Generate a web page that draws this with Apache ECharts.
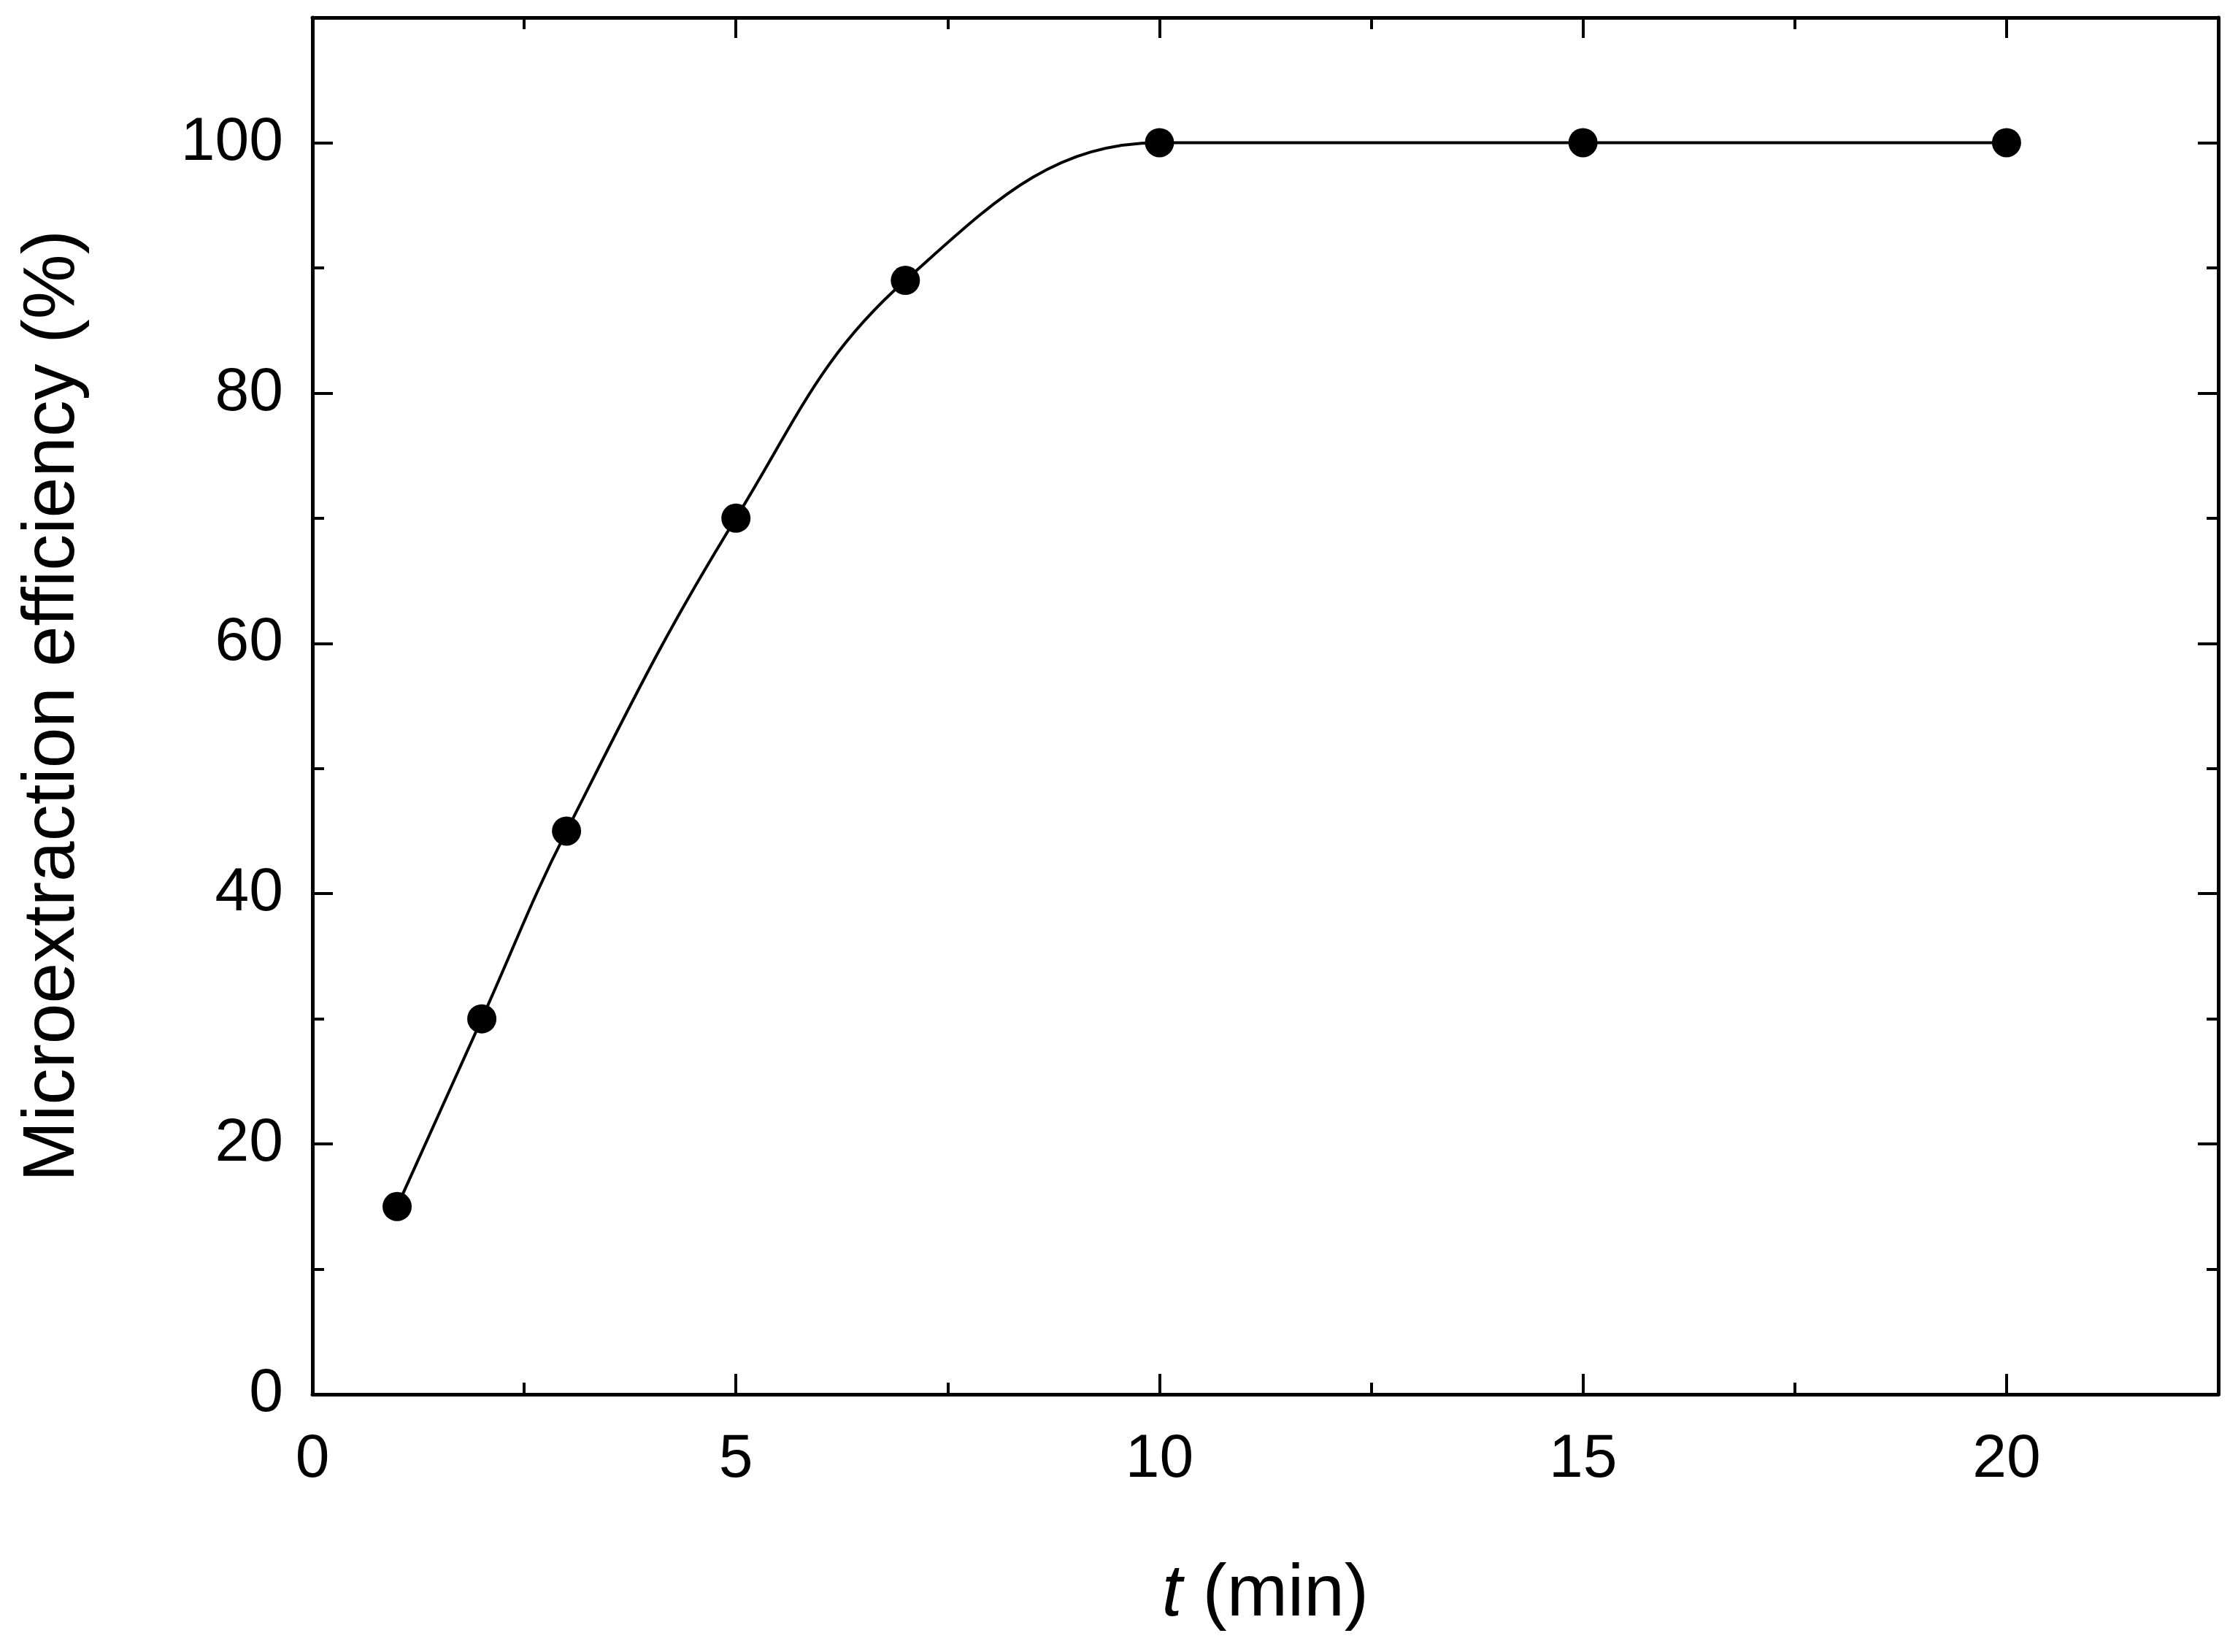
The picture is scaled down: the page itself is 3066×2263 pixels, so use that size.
<!DOCTYPE html>
<html>
<head>
<meta charset="utf-8">
<script src="https://cdn.jsdelivr.net/npm/echarts@6/dist/echarts.min.js"></script>
<style>html, body{ margin:0; height:100%; background:#fff; }</style>
</head>
<body>
<div id="main" style="width:3066px;height:2263px;"></div>
<script>
// time (min) and efficiency (%)
var timeMin = [1, 2, 3, 5, 7, 10, 15, 20];
var efficiency = [15, 30, 45, 70, 89, 100, 100, 100];

var myChart = echarts.init(document.getElementById('main'));
var font = 'Arial, "Liberation Sans", sans-serif';

function axisBase(extra) {
    var a = {
        axisLine: { show: true, onZero: false, lineStyle: { color: '#000', width: 5 } },
        axisTick: { show: true, inside: true, length: 28, lineStyle: { color: '#000', width: 4 } },
        minorTick: { show: true, splitNumber: 2, length: 16, lineStyle: { color: '#000', width: 4 } },
        splitLine: { show: false },
        axisLabel: { show: false }
    };
    for (var k in extra) a[k] = extra[k];
    return a;
}

var option = {
    backgroundColor: '#fff',
    animation: false,
    grid: { left: 428, right: 27, top: 24, bottom: 353 },
    xAxis: [
        axisBase({
            type: 'value', min: 0, max: 22.5, interval: 5, position: 'bottom',
            name: '{i|t} (min)', nameLocation: 'middle', nameGap: 225,
            nameTextStyle: { fontSize: 100, fontFamily: font, color: '#000',
                rich: { i: { fontStyle: 'italic', fontSize: 100, fontFamily: font } } },
            axisLabel: { show: true, fontSize: 84, fontFamily: font, color: '#000', margin: 48,
                formatter: function (v) { return v % 5 === 0 ? v : ''; } }
        }),
        axisBase({ type: 'value', min: 0, max: 22.5, interval: 5, position: 'top' })
    ],
    yAxis: [
        axisBase({
            type: 'value', min: 0, max: 110, interval: 20, position: 'left',
            name: 'Microextraction efficiency (%)', nameLocation: 'middle', nameGap: 305,
            nameTextStyle: { fontSize: 100, fontFamily: font, color: '#000' },
            axisLabel: { show: true, fontSize: 84, fontFamily: font, color: '#000', margin: 40,
                formatter: function (v) { return v <= 100 ? v : ''; } }
        }),
        axisBase({ type: 'value', min: 0, max: 110, interval: 20, position: 'right' })
    ],
    series: [{
        type: 'line',
        data: timeMin.map(function (t, i) { return [t, efficiency[i]]; }),
        smooth: 0.4,
        symbol: 'circle',
        symbolSize: 40,
        itemStyle: { color: '#000' },
        lineStyle: { color: '#000', width: 4 }
    }]
};
myChart.setOption(option);
</script>
</body>
</html>
